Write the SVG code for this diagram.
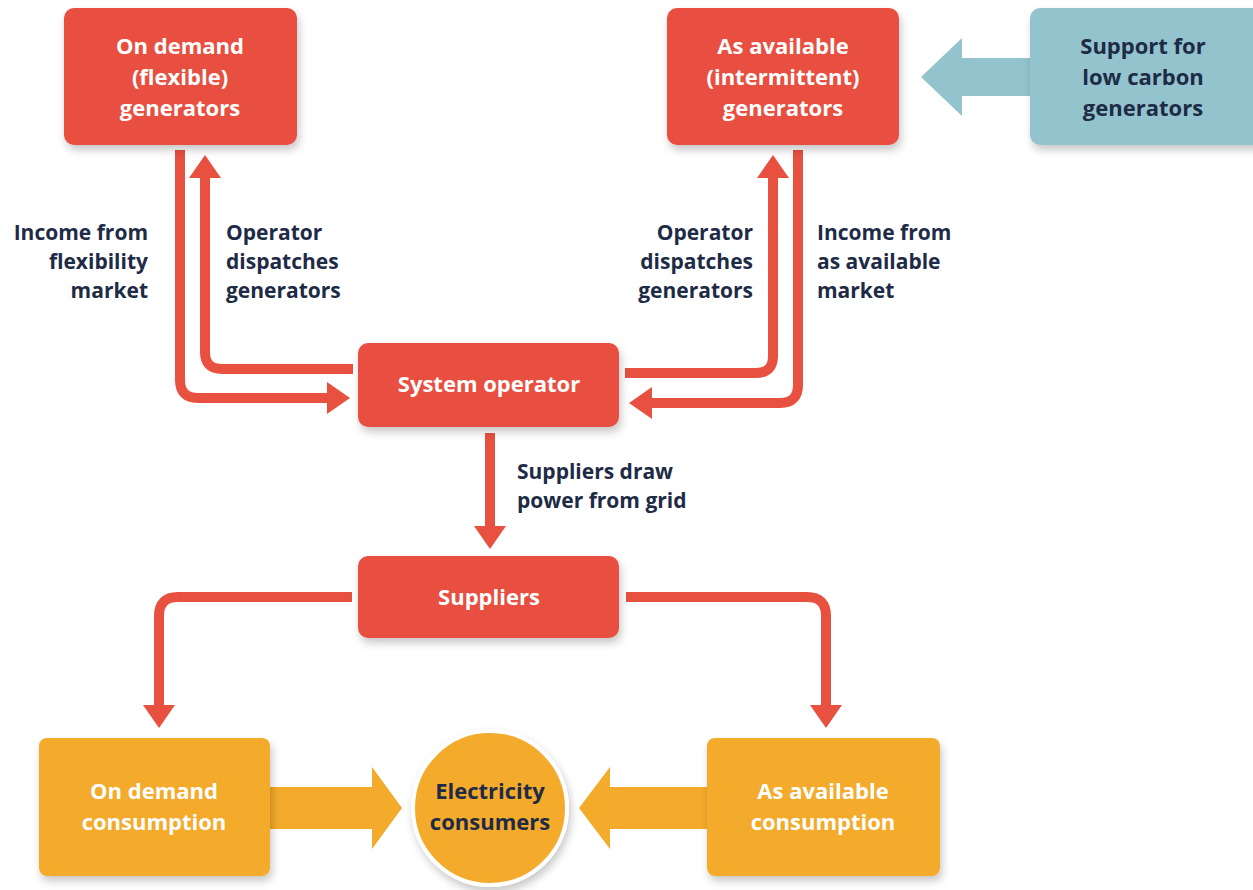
<svg xmlns="http://www.w3.org/2000/svg" width="1253" height="890" viewBox="0 0 1253 890">
<defs>
<filter id="sh" x="-20%" y="-20%" width="140%" height="150%">
<feDropShadow dx="2" dy="5" stdDeviation="4" flood-color="#000" flood-opacity="0.22"/>
</filter>
<marker id="ah" viewBox="0 -16 23 32" refX="0" refY="0" markerWidth="23" markerHeight="32" markerUnits="userSpaceOnUse" orient="auto">
<path d="M0,-16 L23,0 L0,16 z" fill="#e8503f"/>
</marker>
<style>
.red{fill:#e8503f}
.org{fill:#f4aa2b}
.blu{fill:#93c3cd}
.wt{font-family:"Open Sans","Liberation Sans",sans-serif;font-weight:700;font-size:22px;fill:#ffffff;text-anchor:middle}
.dt{font-family:"Open Sans","Liberation Sans",sans-serif;font-weight:700;font-size:22px;fill:#1e2b46;text-anchor:middle}
.lb{font-family:"Open Sans","Liberation Sans",sans-serif;font-weight:700;font-size:21px;fill:#1e2b46}
.con{fill:none;stroke:#e8503f;stroke-width:10;marker-end:url(#ah)}
</style>
</defs>
<rect width="1253" height="890" fill="#ffffff"/>

<g id="connectors">
<path class="con" d="M180,150 V380 Q180,398 198,398 H327"/>
<path class="con" d="M353,369 H222 Q205,369 205,352 V178"/>
<path class="con" d="M625,373 H756 Q773,373 773,356 V178"/>
<path class="con" d="M798,150 V385 Q798,403 780,403 H652"/>
<path class="con" d="M490,433 V526"/>
<path class="con" d="M352,597 H178 Q159,597 159,616 V705"/>
<path class="con" d="M626,597 H807 Q826,597 826,616 V705"/>
<path class="org" d="M270,787 H372 V767 L402,808 L372,849 V829 H270 z"/>
<path class="org" d="M707,787 H610 V767 L579,808 L610,849 V829 H707 z"/>
<path class="blu" d="M1032,58 H962 V38 L921,77 L962,116 V96 H1032 z"/>
</g>

<g id="label-income-flex">
<text class="lb" text-anchor="end" x="148" y="240">Income from</text>
<text class="lb" text-anchor="end" x="148" y="269">flexibility</text>
<text class="lb" text-anchor="end" x="148" y="298">market</text>
</g>
<g id="label-dispatch-left">
<text class="lb" x="226" y="240">Operator</text>
<text class="lb" x="226" y="269">dispatches</text>
<text class="lb" x="226" y="298">generators</text>
</g>
<g id="label-dispatch-right">
<text class="lb" text-anchor="end" x="753" y="240">Operator</text>
<text class="lb" text-anchor="end" x="753" y="269">dispatches</text>
<text class="lb" text-anchor="end" x="753" y="298">generators</text>
</g>
<g id="label-income-avail">
<text class="lb" x="817" y="240">Income from</text>
<text class="lb" x="817" y="269">as available</text>
<text class="lb" x="817" y="298">market</text>
</g>
<g id="label-draw">
<text class="lb" x="517" y="479">Suppliers draw</text>
<text class="lb" x="517" y="508">power from grid</text>
</g>

<g id="node-ondemand-gen">
<rect class="red" x="64" y="8" width="233" height="137" rx="10" filter="url(#sh)"/>
<text class="wt" x="180" y="54">On demand</text>
<text class="wt" x="180" y="85">(flexible)</text>
<text class="wt" x="180" y="116">generators</text>
</g>
<g id="node-asavailable-gen">
<rect class="red" x="667" y="8" width="232" height="137" rx="10" filter="url(#sh)"/>
<text class="wt" x="783" y="54">As available</text>
<text class="wt" x="783" y="85">(intermittent)</text>
<text class="wt" x="783" y="116">generators</text>
</g>
<g id="node-support">
<rect class="blu" x="1030" y="8" width="240" height="137" rx="10" filter="url(#sh)"/>
<text class="dt" x="1143" y="54">Support for</text>
<text class="dt" x="1143" y="85">low carbon</text>
<text class="dt" x="1143" y="116">generators</text>
</g>
<g id="node-system-operator">
<rect class="red" x="358" y="343" width="261" height="84" rx="10" filter="url(#sh)"/>
<text class="wt" x="489" y="392">System operator</text>
</g>
<g id="node-suppliers">
<rect class="red" x="358" y="556" width="261" height="82" rx="10" filter="url(#sh)"/>
<text class="wt" x="489" y="605">Suppliers</text>
</g>
<g id="node-ondemand-cons">
<rect class="org" x="39" y="738" width="231" height="138" rx="8" filter="url(#sh)"/>
<text class="wt" x="154" y="799">On demand</text>
<text class="wt" x="154" y="830">consumption</text>
</g>
<g id="node-asavailable-cons">
<rect class="org" x="707" y="738" width="233" height="138" rx="8" filter="url(#sh)"/>
<text class="wt" x="823" y="799">As available</text>
<text class="wt" x="823" y="830">consumption</text>
</g>
<g id="node-consumers">
<circle class="org" cx="490" cy="808" r="77" stroke="#ffffff" stroke-width="4" filter="url(#sh)"/>
<text class="dt" x="490" y="799">Electricity</text>
<text class="dt" x="490" y="830">consumers</text>
</g>
</svg>
